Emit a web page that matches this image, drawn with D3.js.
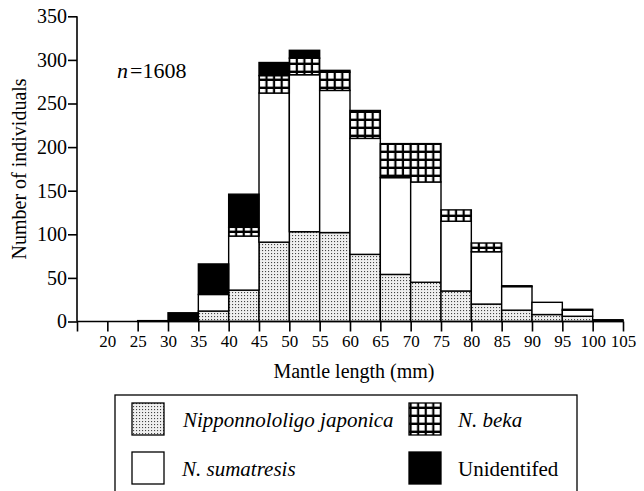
<!DOCTYPE html>
<html>
<head>
<meta charset="utf-8">
<script src="https://cdn.jsdelivr.net/npm/d3@7"></script>
<style>
  body { margin: 0; background: #fff; }
  svg text { font-family: "Times New Roman", Times, "Liberation Serif", Tinos, "DejaVu Serif", "Noto Serif", serif !important; fill: #000; }
</style>
</head>
<body>
<script>
// bin start (mm), bins are 5 mm wide
const binStarts = [15, 20, 25, 30, 35, 40, 45, 50, 55, 60, 65, 70, 75, 80, 85, 90, 95, 100];
const japonica   = [0, 0, 0, 0, 12, 36, 91, 103, 102, 77, 54, 45, 35, 20, 13, 8, 6, 0];
const sumatresis = [0, 0, 1, 0, 19, 62, 171, 180, 163, 133, 111, 115, 80, 60, 27, 14, 7, 1];
const beka       = [0, 0, 0, 0, 0, 10, 20, 19, 21, 32, 39, 44, 13, 10, 0, 0, 0, 0];
const unident    = [0, 0, 0, 10, 35, 38, 15, 9, 2, 0, 0, 0, 0, 0, 1, 0, 1, 1];
const xTicks = [15, 20, 25, 30, 35, 40, 45, 50, 55, 60, 65, 70, 75, 80, 85, 90, 95, 100, 105];
const yTicks = [0, 50, 100, 150, 200, 250, 300, 350];
const seriesKeys = ["japonica", "sumatresis", "beka", "unident"];

const width = 644, height = 491;
const serif = "Times New Roman, Times, Liberation Serif, Tinos, DejaVu Serif, serif";

const svg = d3.select("body").append("svg")
    .attr("width", width)
    .attr("height", height)
    .attr("font-family", serif);

const x = d3.scaleLinear().domain([15, 105]).range([77, 623]);
const y = d3.scaleLinear().domain([0, 350]).range([321.5, 16.3]);

// patterns
const defs = svg.append("defs");
const dots = defs.append("pattern")
    .attr("id", "dots")
    .attr("patternUnits", "userSpaceOnUse")
    .attr("width", 3).attr("height", 3);
dots.append("rect").attr("width", 3).attr("height", 3).attr("fill", "#efefef");
dots.append("rect").attr("x", 1).attr("y", 1).attr("width", 1.1).attr("height", 1.1).attr("fill", "#444");

const cellW = (x(20) - x(15)) / 4;
const grid = defs.append("pattern")
    .attr("id", "grid")
    .attr("patternUnits", "userSpaceOnUse")
    .attr("x", x(15)).attr("y", 0)
    .attr("width", cellW).attr("height", 8);
grid.append("rect").attr("width", cellW).attr("height", 8).attr("fill", "#000");
grid.append("rect").attr("x", 1).attr("y", 1).attr("width", cellW - 2.2).attr("height", 5.6).attr("fill", "#fff");

const fills = {
    japonica: "url(#dots)",
    sumatresis: "#fff",
    beka: "url(#grid)",
    unident: "#000"
};

const table = binStarts.map((b, i) => ({
    bin: b,
    japonica: japonica[i],
    sumatresis: sumatresis[i],
    beka: beka[i],
    unident: unident[i]
}));

const stacked = d3.stack().keys(seriesKeys)(table);

svg.append("g")
    .selectAll("g")
    .data(stacked)
    .join("g")
    .attr("fill", d => fills[d.key])
    .selectAll("rect")
    .data(d => d.filter(s => s[1] - s[0] > 0))
    .join("rect")
    .attr("x", d => x(d.data.bin))
    .attr("width", d => x(d.data.bin + 5) - x(d.data.bin))
    .attr("y", d => y(d[1]))
    .attr("height", d => y(d[0]) - y(d[1]))
    .attr("stroke", "#000")
    .attr("stroke-width", 1.4);

// axes
const yAxis = svg.append("g")
    .attr("transform", `translate(${x(15)},0)`)
    .call(d3.axisLeft(y).tickValues(yTicks).tickSize(9).tickPadding(1));
yAxis.attr("font-family", serif);
yAxis.selectAll("text").style("font-size", "20px");

const xAxis = svg.append("g")
    .attr("transform", `translate(0,${y(0)})`)
    .call(d3.axisBottom(x).tickValues(xTicks).tickSize(10).tickPadding(3)
        .tickFormat(d => d === 15 ? "" : d));
xAxis.attr("font-family", serif);
xAxis.selectAll("text").style("font-size", "17px");

svg.selectAll(".domain, .tick line").attr("stroke", "#000").attr("stroke-width", 1.6);
yAxis.select(".domain").attr("d", `M0,${y(350)}V${y(0)}`);
xAxis.select(".domain").attr("d", `M${x(15)},0H${x(105)}`);

// axis titles
svg.append("text")
    .attr("transform", `translate(26,${(y(0) + y(350)) / 2}) rotate(-90)`)
    .attr("text-anchor", "middle")
    .style("font-size", "20px")
    .text("Number of individuals");

svg.append("text")
    .attr("x", 354).attr("y", 378)
    .attr("text-anchor", "middle")
    .style("font-size", "20px")
    .text("Mantle length (mm)");

const nLabel = svg.append("text")
    .attr("x", 117).attr("y", 78)
    .style("font-size", "22px");
nLabel.append("tspan").style("font-style", "italic").text("n");
nLabel.append("tspan").attr("dx", 2).text("=1608");

// legend
const legend = svg.append("g");
legend.append("rect")
    .attr("x", 115).attr("y", 395)
    .attr("width", 462).attr("height", 110)
    .attr("fill", "none").attr("stroke", "#000").attr("stroke-width", 1.3);

const legendItems = [
    { key: "japonica", label: "Nipponnololigo japonica", italic: true, sx: 132, sy: 403, tx: 183, ty: 427 },
    { key: "beka", label: "N. beka", italic: true, sx: 409, sy: 403, tx: 458, ty: 427 },
    { key: "sumatresis", label: "N. sumatresis", italic: true, sx: 132, sy: 452, tx: 182, ty: 476 },
    { key: "unident", label: "Unidentifed", italic: false, sx: 409, sy: 452, tx: 458, ty: 476 }
];

const li = legend.selectAll("g.item")
    .data(legendItems)
    .join("g")
    .attr("class", "item");
li.append("rect")
    .attr("x", d => d.sx)
    .attr("y", d => d.sy)
    .attr("width", 32)
    .attr("height", 32)
    .attr("fill", d => fills[d.key])
    .attr("stroke", "#000").attr("stroke-width", 1.3);
li.append("text")
    .attr("x", d => d.tx)
    .attr("y", d => d.ty)
    .style("font-size", "21px")
    .style("font-style", d => d.italic ? "italic" : "normal")
    .text(d => d.label);
</script>
</body>
</html>
